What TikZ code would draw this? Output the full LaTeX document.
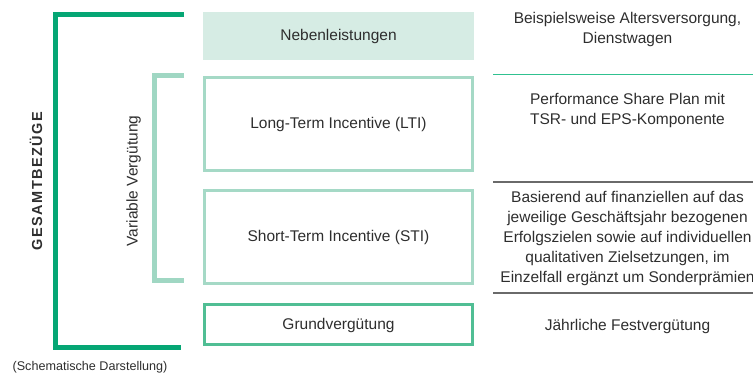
\documentclass[tikz,border=0pt]{standalone}
\usepackage{fontspec}
\setmainfont{Liberation Sans}
\definecolor{dkgreen}{HTML}{05A674}
\definecolor{ltgreen}{HTML}{A0D7C3}
\definecolor{boxfill}{HTML}{D6ECE4}
\definecolor{boxline}{HTML}{A5D9C6}
\definecolor{grundline}{HTML}{50BE94}
\definecolor{sepgreen}{HTML}{30C190}
\definecolor{sepgray}{HTML}{6A6A6A}
\definecolor{txt}{HTML}{2E2E2E}
\tikzset{
  lbl/.style={font=\fontsize{15.5}{20}\selectfont, text=txt, align=center, inner sep=0pt},
  cbox/.style={draw=boxline, line width=3pt, lbl},
}
\begin{document}
\begin{tikzpicture}[x=1pt,y=-1pt]
\useasboundingbox (0,0) rectangle (753,374);
% boxes
\node[lbl, fill=boxfill, minimum width=271pt, minimum height=48pt] (neben) at (338.5,36) {Nebenleistungen};
\node[cbox, minimum width=268pt, minimum height=93pt] (lti) at (338.5,124) {Long-Term Incentive (LTI)};
\node[cbox, minimum width=268pt, minimum height=93pt] (sti) at (338.5,237) {Short-Term Incentive (STI)};
\node[cbox, draw=grundline, minimum width=268pt, minimum height=40pt] (grund) at (338.5,325) {Grundvergütung};
% brackets
\draw[dkgreen, line width=5pt] (184,14.5) -- (55.5,14.5) -- (55.5,347.5) -- (181,347.5);
\draw[ltgreen, line width=5pt] (184,75.5) -- (154.5,75.5) -- (154.5,280.5) -- (184,280.5);
% side labels
\node[font=\fontsize{14.5}{16}\bfseries\addfontfeature{LetterSpace=10}, text=txt, rotate=90, inner sep=0pt] (ges) at (36,181) {GESAMTBEZÜGE};
\node[lbl, rotate=90] (var) at (133.5,181) {Variable Vergütung};
\node[font=\fontsize{12.6}{15}\selectfont, text=txt, inner sep=0pt] (schem) at (90,367) {(Schematische Darstellung)};
% separators
\coordinate (s1a) at (493,74.5); \coordinate (s1b) at (753,74.5);
\coordinate (s2a) at (493,182); \coordinate (s2b) at (753,182);
\coordinate (s3a) at (493,293); \coordinate (s3b) at (753,293);
\draw[sepgreen, line width=1.5pt] (s1a) -- (s1b);
\draw[sepgray, line width=1.5pt] (s2a) -- (s2b);
\draw[sepgray, line width=1.5pt] (s3a) -- (s3b);
% descriptions
\node[lbl] (d1) at (627.5,29) {Beispielsweise Altersversorgung,\\Dienstwagen};
\node[lbl] (d2) at (627.5,110) {Performance Share Plan mit\\TSR- und EPS-Komponente};
\node[lbl] (d3) at (627.5,238) {Basierend auf finanziellen auf das\\jeweilige Geschäftsjahr bezogenen\\Erfolgszielen sowie auf individuellen\\qualitativen Zielsetzungen, im\\Einzelfall ergänzt um Sonderprämien};
\node[lbl] (d4) at (627.5,326) {Jährliche Festvergütung};
\end{tikzpicture}
\end{document}
